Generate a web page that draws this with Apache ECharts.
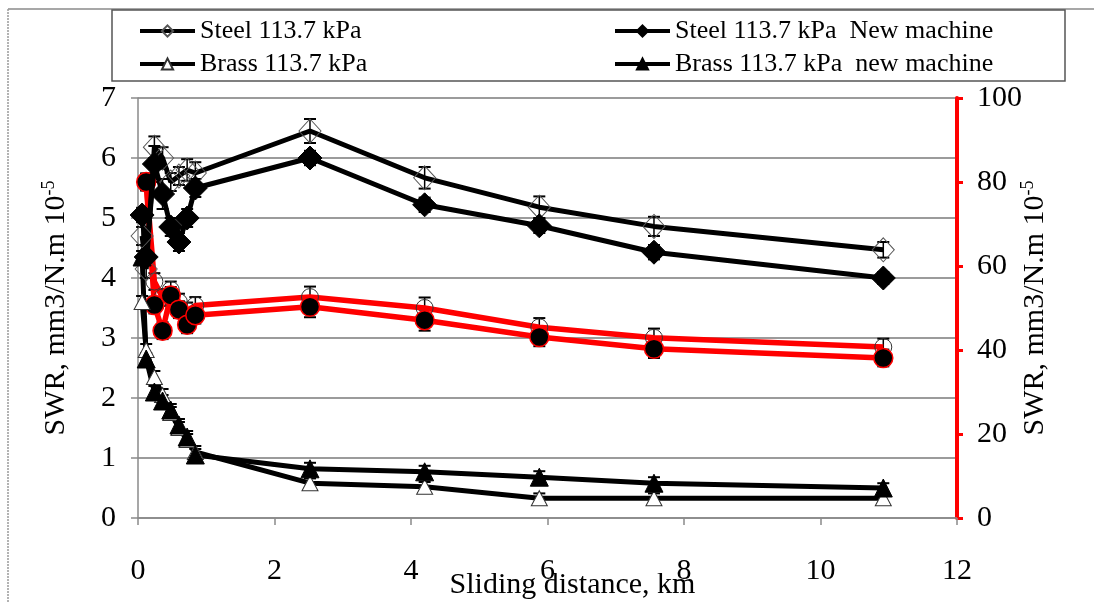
<!DOCTYPE html>
<html><head><meta charset="utf-8">
<script src="https://cdn.jsdelivr.net/npm/echarts@6/dist/echarts.min.js"></script>
<style>html,body{margin:0;padding:0;background:#fff}#c{width:1094px;height:603px}</style>
</head><body><div id="c"></div>
<script>
// ---- data ----
const distanceKm = [0.06, 0.12, 0.24, 0.36, 0.48, 0.6, 0.72, 0.84, 2.52, 4.2, 5.88, 7.56, 10.92];
const xTicks = [0, 2, 4, 6, 8, 10, 12];
// left axis (SWR, mm3/N.m 10^-5)
const steelOld = [4.7, 4.15, 6.18, 6.0, 5.6, 5.7, 5.8, 5.75, 6.45, 5.67, 5.18, 4.86, 4.47];
const steelOldErr = [0.15, 0.15, 0.18, 0.18, 0.15, 0.15, 0.18, 0.18, 0.2, 0.18, 0.18, 0.16, 0.13];
const steelNew = [5.05, 4.35, 5.9, 5.4, 4.85, 4.6, 5.0, 5.5, 6.0, 5.22, 4.87, 4.43, 4.0];
const steelNewErr = [0.12, 0.12, 0.3, 0.25, 0.15, 0.15, 0.15, 0.15, 0.12, 0.12, 0.12, 0.12, 0.1];
const brassOld = [3.6, 2.8, 2.35, 2.05, 1.75, 1.5, 1.3, 1.1, 0.58, 0.52, 0.33, 0.33, 0.33];
const brassOldErr = [0.1, 0.1, 0.1, 0.1, 0.1, 0.1, 0.1, 0.1, 0.08, 0.08, 0.08, 0.08, 0.08];
const brassNew = [4.35, 2.65, 2.1, 1.95, 1.8, 1.55, 1.35, 1.05, 0.82, 0.77, 0.68, 0.58, 0.5];
const brassNewErr = [0.1, 0.1, 0.1, 0.1, 0.1, 0.1, 0.1, 0.1, 0.1, 0.1, 0.1, 0.1, 0.08];
// right axis (red lines)
const redOpen = [null, 80, 56.3, 52.5, 54.3, 51.4, 49.3, 50.6, 52.6, 50, 45.4, 42.9, 40.7];
const redOpenErr = [null, 2, 2, 2, 2, 2, 2, 2, 2.5, 2.5, 2.2, 2.2, 2];
const redFilled = [null, 80, 50.7, 44.6, 53, 49.6, 46, 48.3, 50.3, 47.1, 43.1, 40.3, 38.1];
const redFilledErr = [null, 2, 2, 2, 2, 2, 2, 2, 2.5, 2.5, 2.2, 2.2, 2];
const names = ['Steel 113.7 kPa', 'Steel 113.7 kPa  New machine', 'Brass 113.7 kPa', 'Brass 113.7 kPa  new machine'];

// ---- helpers ----
function pts(vals) {
  const out = [];
  distanceKm.forEach((d, i) => { if (vals[i] != null) out.push([d, vals[i]]); });
  return out;
}
function errs(vals, e) {
  const out = [];
  distanceKm.forEach((d, i) => { if (vals[i] != null) out.push([d, vals[i] - e[i], vals[i] + e[i]]); });
  return out;
}
function errSeries(vals, e, yAxisIndex) {
  return {
    type: 'custom', yAxisIndex: yAxisIndex, z: 3, silent: true,
    data: errs(vals, e), encode: { x: 0, y: [1, 2] },
    renderItem: function (params, api) {
      const x = api.value(0);
      const lo = api.coord([x, api.value(1)]);
      const hi = api.coord([x, api.value(2)]);
      const w = 6, st = { stroke: '#000', lineWidth: 1.5 };
      return { type: 'group', children: [
        { type: 'line', shape: { x1: hi[0], y1: hi[1], x2: lo[0], y2: lo[1] }, style: st },
        { type: 'line', shape: { x1: hi[0] - w, y1: hi[1], x2: hi[0] + w, y2: hi[1] }, style: { stroke: '#000', lineWidth: 2 } },
        { type: 'line', shape: { x1: lo[0] - w, y1: lo[1], x2: lo[0] + w, y2: lo[1] }, style: { stroke: '#000', lineWidth: 2 } }
      ] };
    }
  };
}
const FONT = 'Liberation Serif';
const chart = echarts.init(document.getElementById('c'), null, { renderer: 'canvas' });
const legendText = { fontFamily: FONT, fontSize: 26, color: '#000' };
const legendCommon = { orient: 'vertical', top: 13, itemWidth: 55, itemHeight: 14, itemGap: 7,
  textStyle: legendText, selectedMode: false, lineStyle: { width: 4 } };
chart.setOption({
  backgroundColor: '#fff',
  animation: false,
  grid: { left: 138, right: 137, top: 98, bottom: 85, containLabel: false, outerBoundsMode: 'none' },
  legend: [
    Object.assign({ data: [names[0], names[2]], left: 133 }, legendCommon),
    Object.assign({ data: [names[1], names[3]], left: 608 }, legendCommon)
  ],
  xAxis: {
    type: 'value', min: xTicks[0], max: xTicks[xTicks.length - 1], interval: 2,
    name: 'Sliding distance, km', nameLocation: 'middle', nameGap: 52, nameMoveOverlap: false,
    nameTextStyle: { fontFamily: FONT, fontSize: 30, color: '#000', padding: [0, 0, 0, 50] },
    axisLine: { lineStyle: { color: '#8a8a8a', width: 1.5 } },
    axisTick: { show: true, inside: false, length: 7, lineStyle: { color: '#8a8a8a', width: 1.5 } },
    axisLabel: { fontFamily: FONT, fontSize: 30, color: '#000', margin: 38 },
    splitLine: { show: false }
  },
  yAxis: [
    {
      type: 'value', min: 0, max: 7, interval: 1, position: 'left',
      name: '{a|SWR, mm3/N.m 10}{s|-5}', nameLocation: 'middle', nameGap: 66, nameRotate: 90, nameMoveOverlap: false,
      nameTextStyle: { rich: {
        a: { fontFamily: FONT, fontSize: 30, color: '#000' },
        s: { fontFamily: FONT, fontSize: 18, color: '#000', padding: [0, 0, 14, 0] } } },
      axisLine: { show: true, lineStyle: { color: '#8a8a8a', width: 1.5 } },
      axisTick: { show: true, length: 7, lineStyle: { color: '#8a8a8a', width: 1.5 } },
      axisLabel: { fontFamily: FONT, fontSize: 30, color: '#000', margin: 22 },
      splitLine: { show: true, lineStyle: { color: '#7a7a7a', width: 1.5 } }
    },
    {
      type: 'value', min: 0, max: 100, interval: 20, position: 'right',
      name: '{a|SWR, mm3/N.m 10}{s|-5}', nameLocation: 'middle', nameGap: 62, nameRotate: 90, nameMoveOverlap: false,
      nameTextStyle: { rich: {
        a: { fontFamily: FONT, fontSize: 30, color: '#000' },
        s: { fontFamily: FONT, fontSize: 18, color: '#000', padding: [0, 0, 14, 0] } } },
      axisLine: { show: true, lineStyle: { color: '#ff0000', width: 4 } },
      axisTick: { show: true, length: 6, lineStyle: { color: '#ff0000', width: 3 } },
      axisLabel: { fontFamily: FONT, fontSize: 30, color: '#000', margin: 20 },
      splitLine: { show: false }
    }
  ],
  series: [
    errSeries(steelOld, steelOldErr, 0),
    errSeries(steelNew, steelNewErr, 0),
    errSeries(brassOld, brassOldErr, 0),
    errSeries(brassNew, brassNewErr, 0),
    errSeries(redOpen, redOpenErr, 1),
    errSeries(redFilled, redFilledErr, 1),
    { name: 'Steel (right axis)', type: 'line', yAxisIndex: 1, data: pts(redOpen), z: 4,
      lineStyle: { color: '#ff0000', width: 5.5 }, symbol: 'circle', symbolSize: 17,
      itemStyle: { color: 'rgba(255,255,255,0)', borderColor: '#333', borderWidth: 1 } },
    { name: 'Steel new machine (right axis)', type: 'line', yAxisIndex: 1, data: pts(redFilled), z: 4,
      lineStyle: { color: '#ff0000', width: 5.5 }, symbol: 'circle', symbolSize: 19,
      itemStyle: { color: '#000', borderColor: '#ff0000', borderWidth: 1.5 } },
    { name: names[0], type: 'line', data: pts(steelOld), z: 5,
      lineStyle: { color: '#000', width: 5 }, symbol: 'diamond', symbolSize: [22, 24],
      itemStyle: { color: 'rgba(255,255,255,0)', borderColor: '#555', borderWidth: 1 } },
    { name: names[1], type: 'line', data: pts(steelNew), z: 5,
      lineStyle: { color: '#000', width: 5 }, symbol: 'diamond', symbolSize: [24, 24],
      itemStyle: { color: '#000', borderColor: '#000', borderWidth: 1 } },
    { name: names[2], type: 'line', data: pts(brassOld), z: 5,
      lineStyle: { color: '#000', width: 5 }, symbol: 'triangle', symbolSize: [16, 15],
      itemStyle: { color: '#fff', borderColor: '#333', borderWidth: 1 } },
    { name: names[3], type: 'line', data: pts(brassNew), z: 5,
      lineStyle: { color: '#000', width: 5 }, symbol: 'triangle', symbolSize: [18, 18],
      itemStyle: { color: '#000', borderColor: '#000', borderWidth: 1 } }
  ],
  graphic: [
    { type: 'line', shape: { x1: 8, y1: 9, x2: 1094, y2: 9 }, style: { stroke: '#8a8a8a', lineWidth: 1.5 }, z: 100 },
    { type: 'line', shape: { x1: 8, y1: 9, x2: 8, y2: 603 }, style: { stroke: '#9a9a9a', lineWidth: 1.5, lineDash: [2, 1] }, z: 100 },
    { type: 'rect', shape: { x: 112, y: 10, width: 953, height: 71 }, style: { fill: 'none', stroke: '#555', lineWidth: 1.5 }, z: 100 }
  ]
});
</script>
</body></html>
